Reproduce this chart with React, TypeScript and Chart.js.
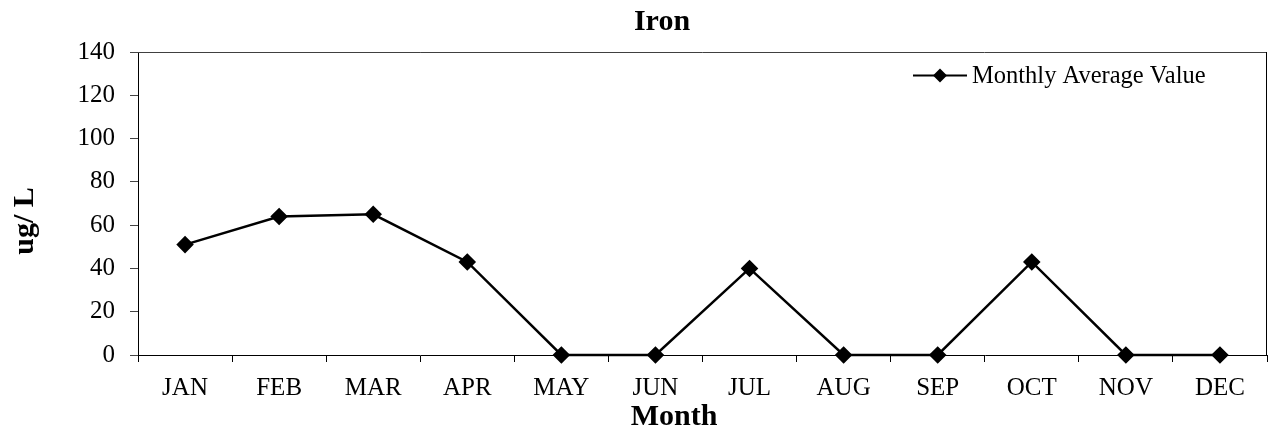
import React, { useEffect, useRef } from "react";
import { Chart, registerables } from "chart.js";

Chart.register(...registerables);

const months = ["JAN", "FEB", "MAR", "APR", "MAY", "JUN", "JUL", "AUG", "SEP", "OCT", "NOV", "DEC"];
const monthlyAverage = [51, 64, 65, 43, 0, 0, 40, 0, 0, 43, 0, 0];
const seriesLabel = "Monthly Average Value";
const chartTitle = "Iron";
const yTitle = "ug/ L";
const xTitle = "Month";
const yMin = 0;
const yMax = 140;
const yStep = 20;

const FONT = '"Liberation Serif", "Times New Roman", serif';

const frameLegendTitles = {
  id: "frameLegendTitles",
  beforeDatasetsDraw(chart: any) {
    const { ctx, chartArea } = chart;
    ctx.save();
    ctx.strokeStyle = "#404040";
    ctx.lineWidth = 1;
    ctx.beginPath();
    ctx.moveTo(chartArea.left, chartArea.top + 0.5);
    ctx.lineTo(chartArea.right - 0.5, chartArea.top + 0.5);
    ctx.stroke();
    ctx.strokeStyle = "#000";
    ctx.beginPath();
    ctx.moveTo(chartArea.right - 0.5, chartArea.top);
    ctx.lineTo(chartArea.right - 0.5, chartArea.bottom);
    ctx.stroke();
    ctx.restore();
  },
  afterDraw(chart: any) {
    const { ctx, chartArea } = chart;
    const ds = chart.data.datasets[0];
    // legend
    const x0 = chartArea.right - 354;
    const y0 = chartArea.top + 23.5;
    ctx.save();
    ctx.strokeStyle = ds.borderColor;
    ctx.lineWidth = 2;
    ctx.beginPath();
    ctx.moveTo(x0, y0);
    ctx.lineTo(x0 + 54, y0);
    ctx.stroke();
    const cx = x0 + 27;
    const r = 7;
    ctx.fillStyle = ds.pointBackgroundColor;
    ctx.beginPath();
    ctx.moveTo(cx, y0 - r);
    ctx.lineTo(cx + r, y0);
    ctx.lineTo(cx, y0 + r);
    ctx.lineTo(cx - r, y0);
    ctx.closePath();
    ctx.fill();
    ctx.fillStyle = "#000";
    ctx.font = `24.5px ${FONT}`;
    ctx.textBaseline = "middle";
    ctx.textAlign = "left";
    ctx.fillText(ds.label, x0 + 59, y0 + 1.5);

    // titles
    ctx.font = `bold 30px ${FONT}`;
    ctx.textAlign = "center";
    ctx.textBaseline = "middle";
    ctx.fillText(chartTitle, 662, 22);
    ctx.fillText(xTitle, 674, 417);
    ctx.translate(25, 221);
    ctx.rotate(-Math.PI / 2);
    ctx.fillText(yTitle, 0, 0);
    ctx.restore();
  },
};

export default function App() {
  const canvasRef = useRef<HTMLCanvasElement | null>(null);

  useEffect(() => {
    document.body.style.margin = "0";
    const canvas = canvasRef.current;
    if (!canvas) return;
    const chart = new Chart(canvas, {
      type: "line",
      data: {
        labels: months,
        datasets: [
          {
            label: seriesLabel,
            data: monthlyAverage,
            borderColor: "#000000",
            backgroundColor: "#000000",
            pointBackgroundColor: "#000000",
            pointBorderColor: "#000000",
            borderWidth: 2.5,
            pointStyle: "rectRot",
            pointRadius: 7,
            pointHoverRadius: 7,
            tension: 0,
            fill: false,
            clip: false,
          },
        ],
      },
      options: {
        responsive: false,
        maintainAspectRatio: false,
        animation: false,
        events: [],
        layout: { autoPadding: false, padding: { left: 0, right: 3, top: 52, bottom: 0 } },
        plugins: {
          legend: { display: false },
          tooltip: { enabled: false },
          title: { display: false },
        },
        scales: {
          x: {
            type: "category",
            offset: true,
            grid: {
              display: true,
              offset: true,
              drawOnChartArea: false,
              drawTicks: true,
              tickLength: 7,
              color: "#000",
            },
            border: { display: true, color: "#000", width: 1 },
            ticks: {
              color: "#000",
              font: { family: FONT, size: 25, lineHeight: 1.2 },
              padding: 11,
              maxRotation: 0,
              autoSkip: false,
            },
            afterFit(scale: any) {
              scale.height = 81;
              scale.paddingLeft = 0;
              scale.paddingRight = 0;
            },
          },
          y: {
            min: yMin,
            max: yMax,
            grid: {
              display: true,
              drawOnChartArea: false,
              drawTicks: true,
              tickLength: 8,
              color: "#444",
            },
            border: { display: true, color: "#000", width: 1 },
            ticks: {
              stepSize: yStep,
              color: "#000",
              font: { family: FONT, size: 25, lineHeight: 1.2 },
              padding: 15,
            },
            afterFit(scale: any) {
              scale.width = 138;
              scale.paddingTop = 0;
              scale.paddingBottom = 0;
            },
          },
        },
      },
      plugins: [frameLegendTitles],
    });
    return () => chart.destroy();
  }, []);

  return (
    <div style={{ width: 1270, height: 436, position: "relative", background: "#fff" }}>
      <canvas ref={canvasRef} width={1270} height={436} style={{ display: "block" }} />
    </div>
  );
}
